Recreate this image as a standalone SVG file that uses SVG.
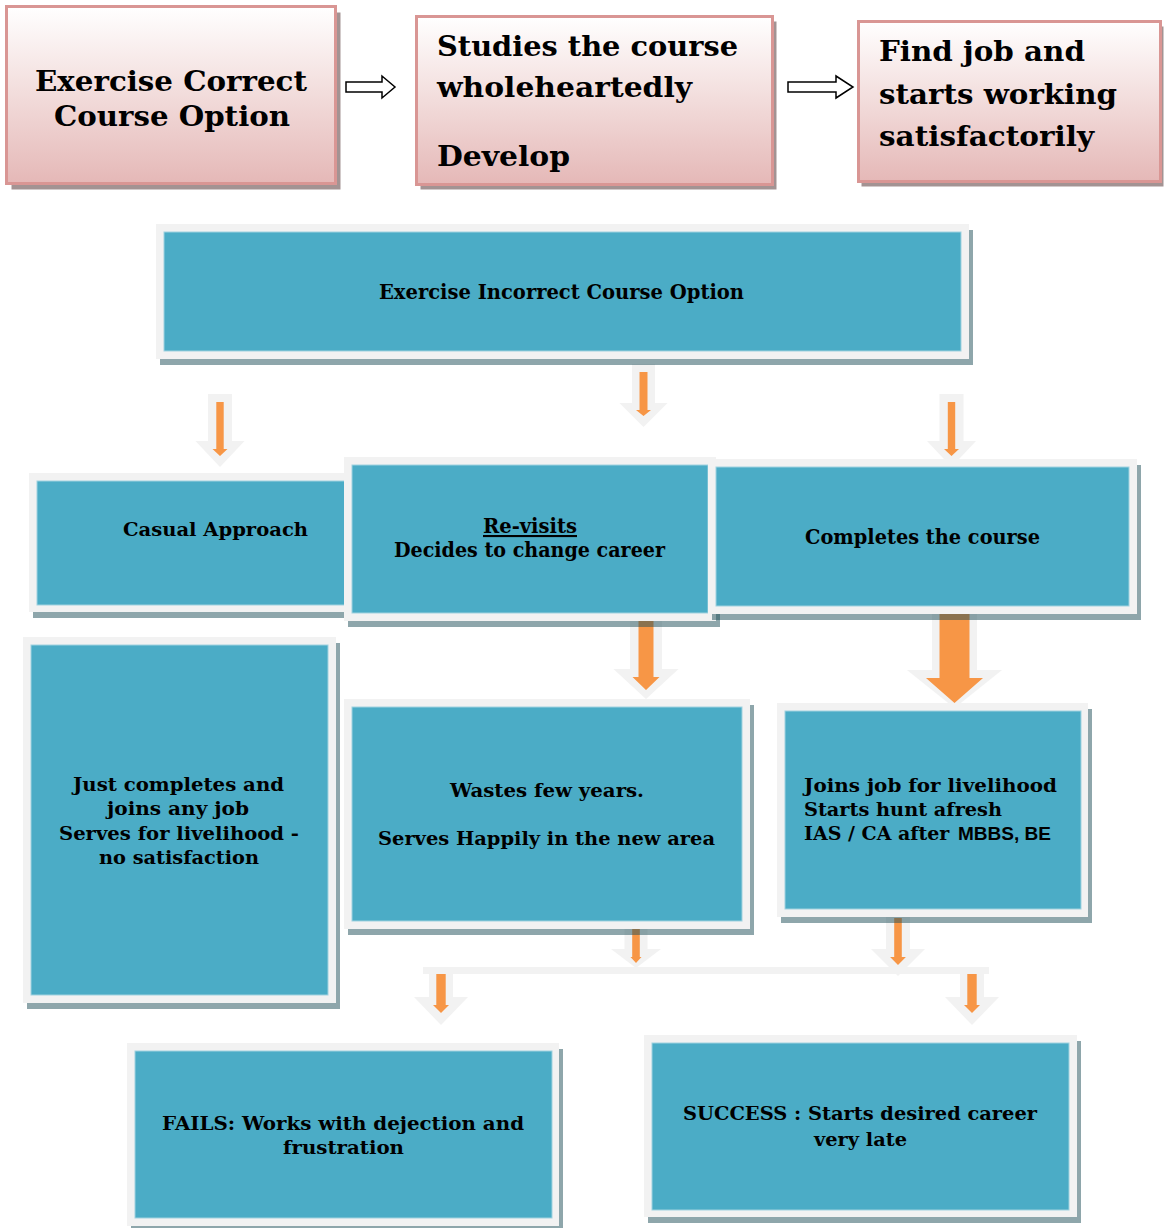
<svg xmlns="http://www.w3.org/2000/svg" width="1164" height="1228" viewBox="0 0 1164 1228">
<defs>
<linearGradient id="pg" x1="0" y1="0" x2="0" y2="1">
<stop offset="0" stop-color="#ffffff"/>
<stop offset="0.5" stop-color="#f2dcdb"/>
<stop offset="1" stop-color="#e5b8b7"/>
</linearGradient>
<style>
.psh{fill:#a39393}
.pk{fill:url(#pg);stroke:#d99694;stroke-width:3}
.sh{fill:#1e4d57;fill-opacity:.5}
.fr{fill:#f2f2f2}
.tl{fill:#4bacc6;stroke:#a0d2df;stroke-width:1}
.t{font-family:"DejaVu Serif","Liberation Serif",serif;font-weight:bold;fill:#000}
.big{font-size:28px}
.sm{font-size:19px}
.cd{font-size:21px}
.ga{fill:#f2f2f2}
.oa{fill:#f79646}
.ha{fill:#fff;stroke:#000;stroke-width:1.5}
.sans{font-family:"Liberation Sans",Arial,sans-serif;font-size:19px}
</style>
</defs>
<rect width="1164" height="1228" fill="#fff"/>

<g id="connectors">
<polygon class="ha" points="346,82 382,82 382,76 395,87 382,98 382,92 346,92"/>
<polygon class="ha" points="788,82 836,82 836,76 853,87 836,98 836,92 788,92"/>

<polygon class="ga" points="208,394 232,394 232,441 244.5,441 220,467 195.5,441 208,441"/>
<polygon class="oa" points="216.3,402 223.7,402 223.7,449 227.5,449 220,456 212.5,449 216.3,449"/>
<polygon class="ga" points="632,364 655,364 655,403 667.5,403 643.5,427 619.5,403 632,403"/>
<polygon class="oa" points="639.5,372 647.5,372 647.5,410 651,410 643.5,416 636,410 639.5,410"/>
<polygon class="ga" points="939.5,394 963.5,394 963.5,441 976,441 951.5,467 927,441 939.5,441"/>
<polygon class="oa" points="947.8,402 955.2,402 955.2,449 959,449 951.5,456 944,449 947.8,449"/>

<polygon class="ga" points="630,608 662,608 662,669 678.5,669 646,699 613.5,669 630,669"/>
<polygon class="oa" points="638.5,610 653.5,610 653.5,677 659.5,677 646,690 632.5,677 638.5,677"/>
<polygon class="ga" points="932,608 977,608 977,670 1002,670 954.5,708 907,670 932,670"/>
<polygon class="oa" points="939.5,610 969.5,610 969.5,678 983,678 954.5,703 926,678 939.5,678"/>

<polygon class="ga" points="624.5,922 647.5,922 647.5,949 661,949 636,968 611,949 624.5,949"/>
<polygon class="oa" points="632.2,924 639.8,924 639.8,957 641.5,957 636,963 630.5,957 632.2,957"/>
<polygon class="ga" points="886,915 910,915 910,949 925,949 898,976 871,949 886,949"/>
<polygon class="oa" points="894.2,918 901.8,918 901.8,957 905.9,957 898,965 890.1,957 894.2,957"/>
<rect class="ga" x="423" y="967" width="566" height="7"/>
<polygon class="ga" points="429,967 453,967 453,997 468,997 441,1025 414,997 429,997"/>
<polygon class="oa" points="436.3,974 445.7,974 445.7,1005 449,1005 441,1013 433,1005 436.3,1005"/>
<polygon class="ga" points="960,967 984,967 984,997 999,997 972,1025 945,997 960,997"/>
<polygon class="oa" points="967.3,974 976.7,974 976.7,1005 980,1005 972,1013 964,1005 967.3,1005"/>
</g>

<g id="correct">
<rect class="psh" x="11.5" y="12.5" width="329" height="177"/>
<rect class="pk" x="6.5" y="6.5" width="329" height="177"/>
<text class="t big" x="35" y="91" textLength="272" lengthAdjust="spacingAndGlyphs">Exercise Correct</text>
<text class="t big" x="54" y="126" textLength="236" lengthAdjust="spacingAndGlyphs">Course Option</text>
</g>

<g id="studies">
<rect class="psh" x="420.5" y="21.5" width="356" height="168"/>
<rect class="pk" x="416.5" y="16.5" width="356" height="168"/>
<text class="t big" x="437" y="56" textLength="301" lengthAdjust="spacingAndGlyphs">Studies the course</text>
<text class="t big" x="437" y="97" textLength="255" lengthAdjust="spacingAndGlyphs">wholeheartedly</text>
<text class="t big" x="437" y="166" textLength="133" lengthAdjust="spacingAndGlyphs">Develop</text>
</g>

<g id="findjob">
<rect class="psh" x="861.5" y="26.5" width="302" height="160"/>
<rect class="pk" x="858.5" y="21.5" width="302" height="160"/>
<text class="t big" x="879" y="61" textLength="206" lengthAdjust="spacingAndGlyphs">Find job and</text>
<text class="t big" x="879" y="104" textLength="238" lengthAdjust="spacingAndGlyphs">starts working</text>
<text class="t big" x="879" y="146" textLength="215" lengthAdjust="spacingAndGlyphs">satisfactorily</text>
</g>

<g id="incorrect">
<rect class="sh" x="160" y="230" width="813" height="135"/>
<rect class="fr" x="156" y="224" width="813" height="135"/>
<rect class="tl" x="164" y="232" width="797" height="119"/>
<text class="t cd" x="379" y="299" textLength="365" lengthAdjust="spacingAndGlyphs">Exercise Incorrect Course Option</text>
</g>

<g id="casual">
<rect class="sh" x="33" y="479" width="323" height="139"/>
<rect class="fr" x="29" y="473" width="323" height="139"/>
<rect class="tl" x="37" y="481" width="315" height="124"/>
<text class="t sm" x="123" y="536" textLength="185" lengthAdjust="spacingAndGlyphs">Casual Approach</text>
</g>

<g id="revisits">
<rect class="sh" x="348" y="463" width="372" height="164"/>
<rect class="fr" x="344" y="457" width="372" height="164"/>
<rect class="tl" x="352" y="465" width="356" height="148"/>
<text class="t cd" x="483" y="533" textLength="94" lengthAdjust="spacingAndGlyphs" text-decoration="underline">Re-visits</text>
<text class="t cd" x="394" y="557" textLength="271" lengthAdjust="spacingAndGlyphs">Decides to change career</text>
</g>

<g id="completes">
<rect class="sh" x="712" y="465" width="429" height="155"/>
<rect class="fr" x="708" y="459" width="429" height="155"/>
<rect class="tl" x="716" y="467" width="413" height="139"/>
<text class="t cd" x="805" y="544" textLength="235" lengthAdjust="spacingAndGlyphs">Completes the course</text>
</g>

<g id="justcompletes">
<rect class="sh" x="27" y="643" width="313" height="366"/>
<rect class="fr" x="23" y="637" width="313" height="366"/>
<rect class="tl" x="31" y="645" width="297" height="350"/>
<text class="t sm" x="73" y="791" textLength="211" lengthAdjust="spacingAndGlyphs">Just completes and</text>
<text class="t sm" x="107" y="815" textLength="142" lengthAdjust="spacingAndGlyphs">joins any job</text>
<text class="t sm" x="59" y="840" textLength="240" lengthAdjust="spacingAndGlyphs">Serves for livelihood -</text>
<text class="t sm" x="99" y="864" textLength="160" lengthAdjust="spacingAndGlyphs">no satisfaction</text>
</g>

<g id="wastes">
<rect class="sh" x="348" y="705" width="406" height="230"/>
<rect class="fr" x="344" y="699" width="406" height="230"/>
<rect class="tl" x="352" y="707" width="390" height="214"/>
<text class="t sm" x="450" y="797" textLength="194" lengthAdjust="spacingAndGlyphs">Wastes few years.</text>
<text class="t sm" x="378" y="845" textLength="337" lengthAdjust="spacingAndGlyphs">Serves Happily in the new area</text>
</g>

<g id="joinsjob">
<rect class="sh" x="781" y="709" width="311" height="214"/>
<rect class="fr" x="777" y="703" width="311" height="214"/>
<rect class="tl" x="785" y="711" width="296" height="198"/>
<text class="t sm" x="804" y="792" textLength="253" lengthAdjust="spacingAndGlyphs">Joins job for livelihood</text>
<text class="t sm" x="804" y="816" textLength="198" lengthAdjust="spacingAndGlyphs">Starts hunt afresh</text>
<text class="t sm" x="804" y="840">IAS / CA after <tspan class="sans" x="958">MBBS, BE</tspan></text>
</g>

<g id="fails">
<rect class="sh" x="131" y="1049" width="432" height="183"/>
<rect class="fr" x="127" y="1043" width="432" height="183"/>
<rect class="tl" x="135" y="1051" width="417" height="167"/>
<text class="t sm" x="162" y="1130" textLength="362" lengthAdjust="spacingAndGlyphs">FAILS: Works with dejection and</text>
<text class="t sm" x="283" y="1154" textLength="121" lengthAdjust="spacingAndGlyphs">frustration</text>
</g>

<g id="success">
<rect class="sh" x="648" y="1041" width="433" height="182"/>
<rect class="fr" x="644" y="1035" width="433" height="182"/>
<rect class="tl" x="652" y="1043" width="417" height="167"/>
<text class="t sm" x="683" y="1120" textLength="354" lengthAdjust="spacingAndGlyphs">SUCCESS : Starts desired career</text>
<text class="t sm" x="814" y="1146" textLength="93" lengthAdjust="spacingAndGlyphs">very late</text>
</g>
</svg>
